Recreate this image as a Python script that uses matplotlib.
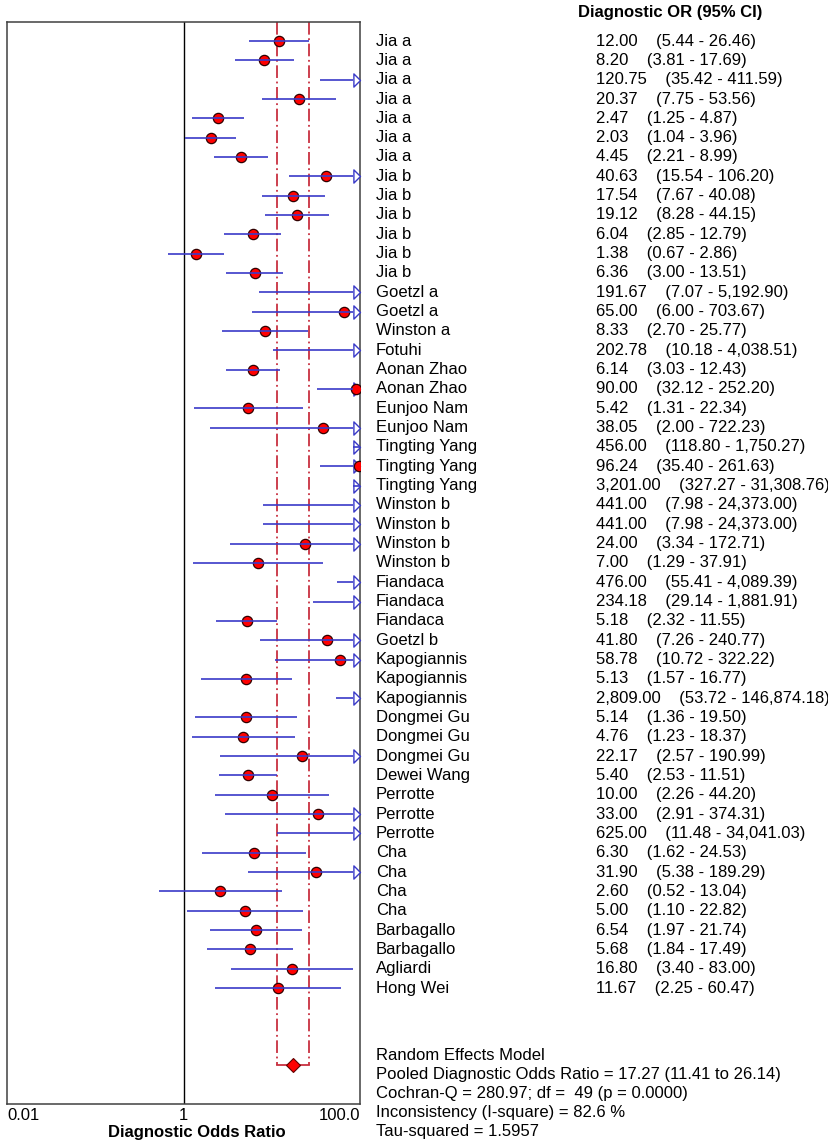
import numpy as np
import matplotlib.pyplot as plt
from matplotlib.path import Path
from matplotlib import transforms

plt.rcParams['font.family'] = ['Liberation Sans', 'DejaVu Sans']

studies = ['Jia a', 'Jia a', 'Jia a', 'Jia a', 'Jia a', 'Jia a', 'Jia a',
           'Jia b', 'Jia b', 'Jia b', 'Jia b', 'Jia b', 'Jia b',
           'Goetzl a', 'Goetzl a', 'Winston a', 'Fotuhi', 'Aonan Zhao', 'Aonan Zhao',
           'Eunjoo Nam', 'Eunjoo Nam', 'Tingting Yang', 'Tingting Yang', 'Tingting Yang',
           'Winston b', 'Winston b', 'Winston b', 'Winston b',
           'Fiandaca', 'Fiandaca', 'Fiandaca', 'Goetzl b',
           'Kapogiannis', 'Kapogiannis', 'Kapogiannis',
           'Dongmei Gu', 'Dongmei Gu', 'Dongmei Gu', 'Dewei Wang',
           'Perrotte', 'Perrotte', 'Perrotte', 'Cha', 'Cha', 'Cha', 'Cha',
           'Barbagallo', 'Barbagallo', 'Agliardi', 'Hong Wei']
dor = [12.00, 8.20, 120.75, 20.37, 2.47, 2.03, 4.45,
       40.63, 17.54, 19.12, 6.04, 1.38, 6.36,
       191.67, 65.00, 8.33, 202.78, 6.14, 90.00,
       5.42, 38.05, 456.00, 96.24, 3201.00,
       441.00, 441.00, 24.00, 7.00,
       476.00, 234.18, 5.18, 41.80,
       58.78, 5.13, 2809.00,
       5.14, 4.76, 22.17, 5.40,
       10.00, 33.00, 625.00, 6.30, 31.90, 2.60, 5.00,
       6.54, 5.68, 16.80, 11.67]
ci_low = [5.44, 3.81, 35.42, 7.75, 1.25, 1.04, 2.21,
          15.54, 7.67, 8.28, 2.85, 0.67, 3.00,
          7.07, 6.00, 2.70, 10.18, 3.03, 32.12,
          1.31, 2.00, 118.80, 35.40, 327.27,
          7.98, 7.98, 3.34, 1.29,
          55.41, 29.14, 2.32, 7.26,
          10.72, 1.57, 53.72,
          1.36, 1.23, 2.57, 2.53,
          2.26, 2.91, 11.48, 1.62, 5.38, 0.52, 1.10,
          1.97, 1.84, 3.40, 2.25]
ci_high = [26.46, 17.69, 411.59, 53.56, 4.87, 3.96, 8.99,
           106.20, 40.08, 44.15, 12.79, 2.86, 13.51,
           5192.90, 703.67, 25.77, 4038.51, 12.43, 252.20,
           22.34, 722.23, 1750.27, 261.63, 31308.76,
           24373.00, 24373.00, 172.71, 37.91,
           4089.39, 1881.91, 11.55, 240.77,
           322.22, 16.77, 146874.18,
           19.50, 18.37, 190.99, 11.51,
           44.20, 374.31, 34041.03, 24.53, 189.29, 13.04, 22.82,
           21.74, 17.49, 83.00, 60.47]

pooled = 17.27
pooled_low = 11.41
pooled_high = 26.14
cochran_q = 280.97
df = 49
p_value = 0.0000
i_square = 82.6
tau_sq = 1.5957

xmin, xmax = 0.01, 100
blue = '#3a3ac8'
red_line = '#c83040'

fig = plt.figure(figsize=(8.29, 11.48), dpi=100)
ax = fig.add_axes([0.0088, 0.0383, 0.4255, 0.9428])
ax.set_xscale('log')
ax.set_xlim(xmin, xmax)
n = len(studies)
rows = np.arange(n)
pool_row = n + 3
ax.set_ylim(n + 5, -1)

ax.axvline(1, color='black', lw=1.0, zorder=1)

# pooled CI lines
for v in (pooled_low, pooled_high):
    ax.plot([v, v], [-1, pool_row], color=red_line, lw=1.3,
            linestyle=(0, (7, 2, 1, 2)), zorder=1)
ax.plot([pooled_low, pooled_high], [pool_row, pool_row], color=red_line, lw=1.3, zorder=2)
ax.plot([pooled], [pool_row], marker='D', markersize=7.5, color='#ff0000',
        markeredgecolor='#600000', markeredgewidth=0.8, zorder=5)

dor_a = np.array(dor)
lo_a = np.array(ci_low)
hi_a = np.array(ci_high)

# open arrow for intervals running past the axis
arrow = Path([(-1, -1), (0, 0), (-1, 1), (-1, -1)],
             [Path.MOVETO, Path.LINETO, Path.LINETO, Path.CLOSEPOLY])
arrow_base = xmax * 10 ** -0.075
over = hi_a > xmax
ax.plot(np.full(over.sum(), xmax), rows[over], linestyle='none', marker=arrow,
        markersize=9.5, markerfacecolor='white', markeredgecolor=blue,
        markeredgewidth=1.0, zorder=3, clip_on=False)

ax.plot(dor_a, rows, 'o', markersize=7.4, markerfacecolor='#ff0000',
        markeredgecolor='#300000', markeredgewidth=0.9, zorder=4)
line_end = np.where(over, arrow_base, hi_a)
ax.hlines(rows, lo_a, line_end, color=blue, lw=1.2, zorder=5)

for s in ax.spines.values():
    s.set_color('#404040')
    s.set_linewidth(1.1)
ax.set_yticks([])
ax.set_xticks([0.01, 1, 100])
ax.set_xticks([], minor=True)
ax.set_xticklabels(['0.01', '1', '100.0'], fontsize=12)
ax.tick_params(axis='x', length=0, pad=3)
labs = ax.get_xticklabels()
labs[0].set_ha('left')
labs[2].set_ha('right')
ax.set_xlabel('Diagnostic Odds Ratio', fontsize=12, fontweight='bold', labelpad=1)
ax.xaxis.set_label_coords(0.538, -0.019)

tr = transforms.blended_transform_factory(ax.transAxes, ax.transData)
name_x = 1.0454
val_x = 1.668
ax.text(1.618, -1.45, 'Diagnostic OR (95% CI)', transform=tr, fontsize=12,
        fontweight='bold', va='center', ha='left')
for i in range(n):
    ax.text(name_x, rows[i], studies[i], transform=tr, fontsize=12, va='center')
    ax.text(val_x, rows[i], f'{dor[i]:,.2f}    ({ci_low[i]:,.2f} - {ci_high[i]:,.2f})',
            transform=tr, fontsize=12, va='center')

summary = ['Random Effects Model',
           f'Pooled Diagnostic Odds Ratio = {pooled:.2f} ({pooled_low:.2f} to {pooled_high:.2f})',
           f'Cochran-Q = {cochran_q:.2f}; df =  {df} (p = {p_value:.4f})',
           f'Inconsistency (I-square) = {i_square:.1f} %',
           f'Tau-squared = {tau_sq:.4f}']
for k, line in enumerate(summary):
    ax.text(name_x, n + 2.5 + k * 0.98, line, transform=tr, fontsize=12, va='center',
            clip_on=False)

fig.savefig('out.png', dpi=100)
